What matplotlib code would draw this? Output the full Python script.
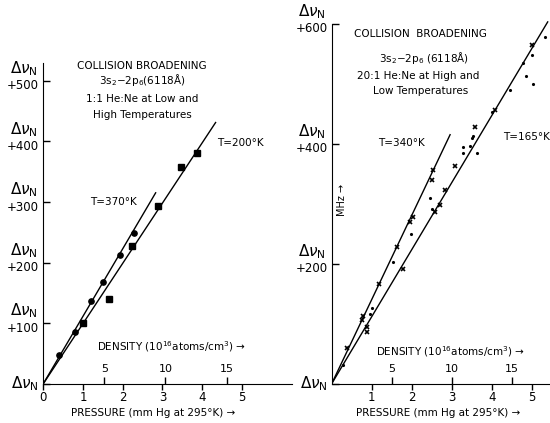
# Collision broadening of the 3s2-2p6 (6118 A) line vs. pressure, two gas mixtures

import numpy as np
import matplotlib.pyplot as plt

# Left panel: 1:1 He:Ne
left_hot_p = [0.40, 0.79, 1.20, 1.50, 1.92, 2.28]        # T=370 K, circles
left_hot_v = [48, 85, 136, 168, 212, 248]
left_cold_p = [1.00, 1.66, 2.23, 2.90, 3.47, 3.86]       # T=200 K, squares
left_cold_v = [100, 139, 227, 293, 358, 381]
left_hot_line = ([0, 2.83], [0, 315])
left_cold_line = ([0, 4.34], [0, 431])

# Right panel: 20:1 He:Ne
right_hot_p = [0.37, 0.75, 0.79, 1.17, 1.62, 1.96, 2.02, 2.50, 2.54]   # T=340 K
right_hot_v = [59, 106, 113, 167, 228, 270, 278, 339, 356]
right_cold_p = [0.87, 0.89, 1.79, 2.58, 2.71, 2.83, 3.08, 3.58, 4.08, 5.00]  # T=165 K
right_cold_v = [87, 95, 192, 286, 298, 322, 363, 427, 456, 564]
right_dots_p = [0.29, 0.96, 1.00, 1.52, 1.97, 2.46, 2.50, 3.28, 3.29, 3.46, 3.50,
                3.54, 3.62, 4.00, 4.46, 4.79, 4.86, 5.00, 5.04, 5.33]
right_dots_v = [31, 117, 126, 203, 250, 309, 291, 384, 394, 396, 409,
                413, 384, 453, 489, 534, 512, 548, 500, 578]
right_hot_line = ([0, 2.96], [0, 415])
right_cold_line = ([0, 5.40], [0, 603])

density_ticks = [5, 10, 15]
left_yticks = [0, 100, 200, 300, 400, 500]
right_yticks = [0, 200, 400, 600]

plt.rcParams['font.family'] = 'DejaVu Sans'
plt.rcParams['mathtext.fontset'] = 'dejavusans'

fig = plt.figure(figsize=(5.5, 4.23), dpi=100)

W, H = 550.0, 423.0
base = 383.7  # pixel row of the zero line


def make_axes(x0, x1, px_per_p, px_per_v, ytop):
    xmax = (x1 - x0) / px_per_p
    ax = fig.add_axes([x0 / W, (H - base) / H, (x1 - x0) / W, ytop * px_per_v / H])
    ax.set_xlim(0, xmax)
    ax.set_ylim(0, ytop)
    ax.spines['top'].set_visible(False)
    ax.spines['right'].set_visible(False)
    ax.patch.set_alpha(0)
    return ax


def y_labels(ax, ticks, top):
    ax.set_yticks(ticks)
    ax.set_yticklabels([])
    ax.tick_params(axis='y', direction='in', length=5, width=1)
    ax.spines['left'].set_bounds(0, top)
    for t in ticks:
        if t == 0:
            ax.annotate(r'$\Delta\nu_{\rm N}$', (0, t), xycoords=('axes fraction', 'data'),
                        xytext=(-3, 0), textcoords='offset points',
                        ha='right', va='center', fontsize=11)
        else:
            ax.annotate(r'$\Delta\nu_{\rm N}$', (0, t), xycoords=('axes fraction', 'data'),
                        xytext=(-4, 2), textcoords='offset points',
                        ha='right', va='bottom', fontsize=11)
            ax.annotate('+%d' % t, (0, t), xycoords=('axes fraction', 'data'),
                        xytext=(-3, 1), textcoords='offset points',
                        ha='right', va='top', fontsize=8.5)


def density_axis(ax, factor):
    sec = ax.secondary_xaxis(0.0, functions=(lambda p: p * factor, lambda d: d / factor))
    sec.set_alignment('top')
    sec.set_xticks(density_ticks)
    sec.tick_params(axis='x', direction='out', length=5, width=1, pad=2, labelsize=8)
    for s in sec.spines.values():
        s.set_visible(False)
    return sec


# ---------------- left panel ----------------
axl = make_axes(43.3, 292, 39.7, 0.606, 560)
axl.plot(*left_hot_line, color='black', lw=1)
axl.plot(*left_cold_line, color='black', lw=1)
axl.plot(left_hot_p, left_hot_v, 'o', color='black', ms=3.8)
axl.plot(left_cold_p, left_cold_v, 's', color='black', ms=4)
axl.set_xticks([0, 1, 2, 3, 4, 5])
axl.tick_params(axis='x', direction='out', length=4.5, width=1, pad=1, labelsize=8.5)
y_labels(axl, left_yticks, 529)
density_axis(axl, 3.25)

axl.text(2.49, 524, 'COLLISION BROADENING', ha='center', va='center', fontsize=7.5)
axl.text(2.49, 501, r'3s$_2$$-$2p$_6$(6118Å)', ha='center', va='center', fontsize=7.5)
axl.text(2.49, 469, '1:1 He:Ne at Low and', ha='center', va='center', fontsize=7.5)
axl.text(2.49, 443, 'High Temperatures', ha='center', va='center', fontsize=7.5)
axl.text(4.37, 398, 'T=200°K', ha='left', va='center', fontsize=7.5)
axl.text(1.18, 300, 'T=370°K', ha='left', va='center', fontsize=7.5)
axl.text(3.24, 62, r'DENSITY (10$^{16}$atoms/cm$^3$) →', ha='center', va='center', fontsize=7.5)
axl.text(2.76, -49, 'PRESSURE (mm Hg at 295°K) →', ha='center', va='center', fontsize=7.5)

# ---------------- right panel ----------------
axr = make_axes(331.7, 550, 40.0, 0.600, 625)
axr.plot(*right_hot_line, color='black', lw=1)
axr.plot(*right_cold_line, color='black', lw=1)
axr.plot(right_hot_p, right_hot_v, 'x', color='black', ms=3.5, mew=1.2)
axr.plot(right_cold_p, right_cold_v, 'x', color='black', ms=3.5, mew=1.2)
axr.plot(right_dots_p, right_dots_v, '.', color='black', ms=2.5)
axr.set_xticks([1, 2, 3, 4, 5])
axr.tick_params(axis='x', direction='out', length=4.5, width=1, pad=1, labelsize=8.5)
y_labels(axr, right_yticks, 600)
density_axis(axr, 3.33)

axr.text(2.23, 583, 'COLLISION  BROADENING', ha='center', va='center', fontsize=7.5)
axr.text(2.30, 542, r'3s$_2$$-$2p$_6$ (6118Å)', ha='center', va='center', fontsize=7.5)
axr.text(2.17, 513, '20:1 He:Ne at High and', ha='center', va='center', fontsize=7.5)
axr.text(2.23, 488, 'Low Temperatures', ha='center', va='center', fontsize=7.5)
axr.text(1.16, 401, 'T=340°K', ha='left', va='center', fontsize=7.5)
axr.text(4.28, 411, 'T=165°K', ha='left', va='center', fontsize=7.5)
axr.text(0.25, 306, 'MHz →', ha='center', va='center', rotation=90, fontsize=7)
axr.text(2.96, 54, r'DENSITY (10$^{16}$atoms/cm$^3$) →', ha='center', va='center', fontsize=7.5)
axr.text(2.66, -49, 'PRESSURE (mm Hg at 295°K) →', ha='center', va='center', fontsize=7.5)

fig.savefig('out.png', dpi=100)
